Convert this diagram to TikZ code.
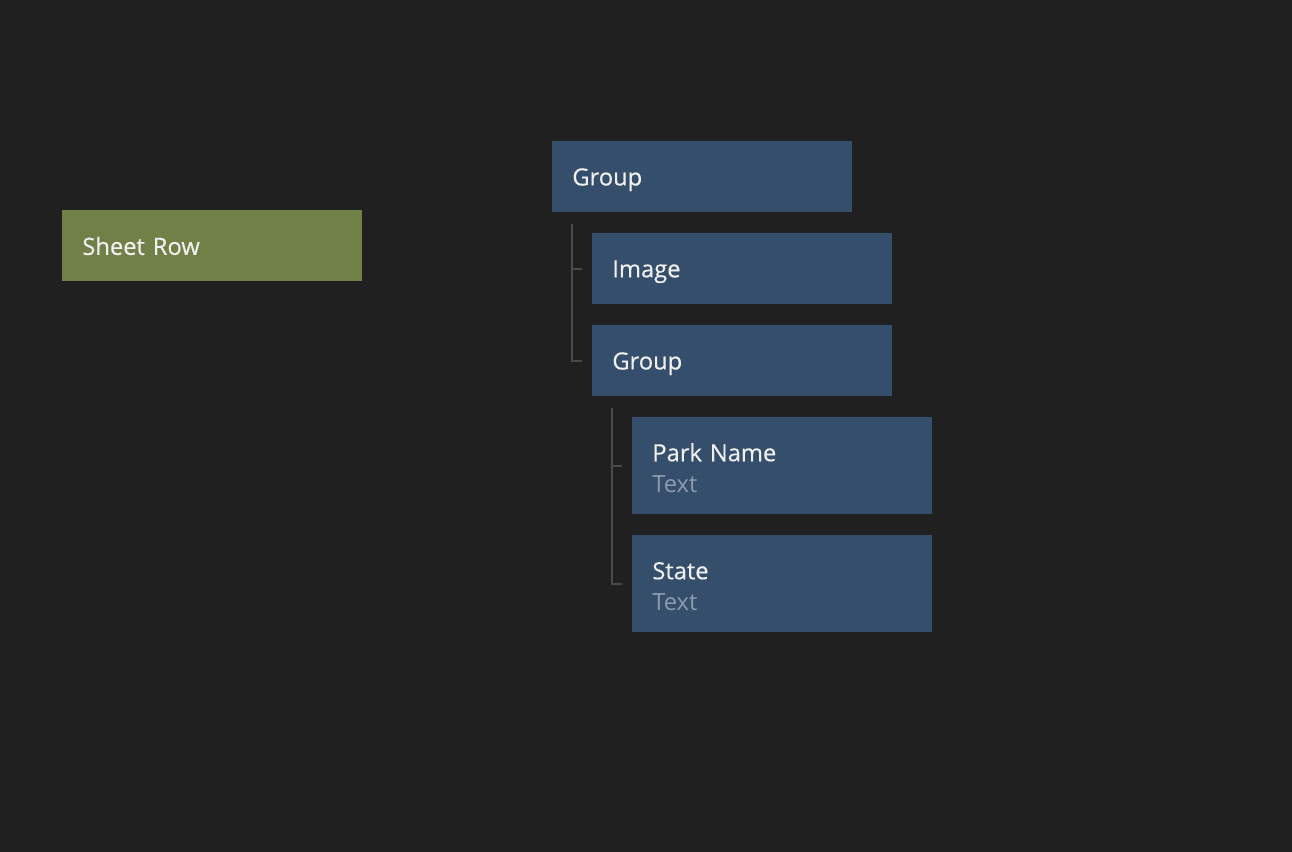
\documentclass[tikz,border=0pt]{standalone}
\usepackage{fontspec}
\setmainfont{Open Sans}
\newfontfamily\titlefont[FakeBold=0.35]{Open Sans}
\usepackage{tikz}
\usetikzlibrary{positioning, calc}
\definecolor{bgdark}{HTML}{202020}
\definecolor{layerblue}{HTML}{344E6B}
\definecolor{rowgreen}{HTML}{718047}
\definecolor{treegray}{HTML}{4A4A4A}
\definecolor{subgray}{HTML}{8C9BAE}

\begin{document}
\begin{tikzpicture}[
    x=0.02cm, y=-0.02cm,
    font=\titlefont\fontsize{13.5}{17.6}\selectfont,
    % Node styles
    layer/.style={rectangle, fill=layerblue, anchor=north west, minimum width=6cm, minimum height=1.42cm, text width=5.2cm, inner xsep=0.4cm, align=left, text=white!94!black, text depth=0pt},
    textlayer/.style={layer, minimum height=1.94cm, text height=12.5pt, text depth={}},
    rowbox/.style={layer, fill=rowgreen},
    tree/.style={draw=treegray, line width=0.8pt},
]

% Background
\fill[bgdark] (0,0) rectangle (1292,852);
\useasboundingbox (0,0) rectangle (1292,852);

% ============================================================================
% LEFT: SHEET ROW
% ============================================================================
\node[rowbox] (sheetrow) at (62,210) {Sheet Row};

% ============================================================================
% RIGHT: LAYER TREE
% ============================================================================
\node[layer] (group) at (552,141) {Group};
\node[layer] (image) at (592,233) {Image};
\node[layer] (subgroup) at (592,325) {Group};
\node[textlayer] (parkname) at (632,417) {Park Name\\{\color{subgray}\normalfont Text}};
\node[textlayer] (state) at (632,535) {State\\{\color{subgray}\normalfont Text}};

% Tree lines
\coordinate (trunkA) at ($(group.south west)+(20,11)$);
\draw[tree] (trunkA) |- ($(subgroup.west)+(-10,0)$);
\draw[tree] (trunkA |- image.west) -- ++(10,0);

\coordinate (trunkB) at ($(subgroup.south west)+(20,11)$);
\draw[tree] (trunkB) |- ($(state.west)+(-10,0)$);
\draw[tree] (trunkB |- parkname.west) -- ++(10,0);

\end{tikzpicture}
\end{document}
